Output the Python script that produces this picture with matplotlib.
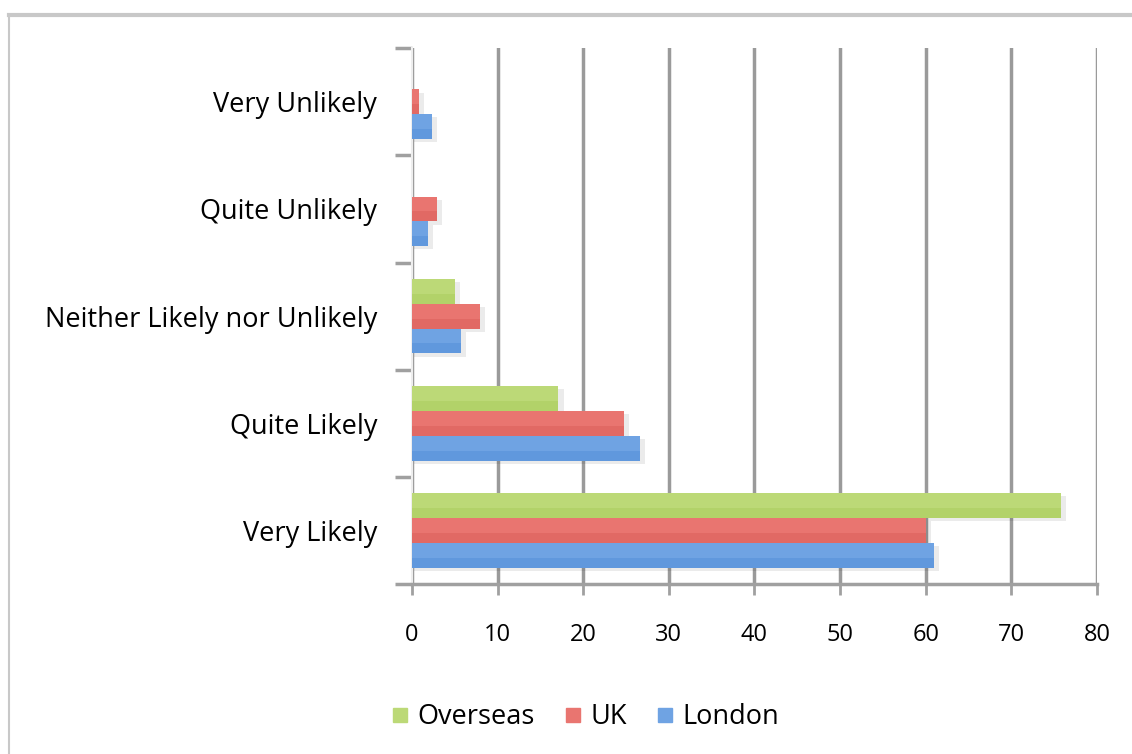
import matplotlib.pyplot as plt
from matplotlib.lines import Line2D
import numpy as np

# data
categories = ['Very Likely', 'Quite Likely', 'Neither Likely nor Unlikely',
              'Quite Unlikely', 'Very Unlikely']
london = [61, 26.6, 5.7, 1.9, 2.3]
uk = [60, 24.8, 7.9, 2.9, 0.8]
overseas = [75.8, 17.1, 5.0, 0, 0]
series_names = ['London', 'UK', 'Overseas']
x_ticks = [0, 10, 20, 30, 40, 50, 60, 70, 80]

colors = {'London': '#6fa3e3', 'UK': '#e97570', 'Overseas': '#bcd977'}
edge_dark = {'London': '#4f8bd6', 'UK': '#d95c57', 'Overseas': '#a6cb5a'}

plt.rcParams['font.family'] = ['Open Sans', 'DejaVu Sans']

fig = plt.figure(figsize=(11.32, 7.54), dpi=100)
ax = fig.add_axes([0.364, 0.2255, 0.605, 0.7105])

y = np.arange(len(categories))
h = 0.232
offsets = {'London': -h, 'UK': 0, 'Overseas': h}
values = {'London': london, 'UK': uk, 'Overseas': overseas}

for name in series_names:
    vals = np.array(values[name])
    pos = y + offsets[name]
    keep = vals > 0
    # soft drop shadow
    ax.barh(pos[keep] - 0.03, vals[keep] + 0.4, height=h, color='#000000',
            alpha=0.08, left=0.2, zorder=2, linewidth=0)
    ax.barh(pos, vals, height=h, color=colors[name], zorder=3, linewidth=0)
    # darker lower strip to hint at the gradient
    ax.barh(pos - h * 0.3, vals, height=h * 0.4, color=edge_dark[name],
            alpha=0.45, zorder=3, linewidth=0)

ax.set_xlim(0, 80)
ax.set_ylim(-0.5, len(categories) - 0.5)
ax.set_xticks(x_ticks)
ax.set_xticklabels([str(t) for t in x_ticks], fontsize=17)
ax.set_yticks(np.arange(-0.5, len(categories), 1.0))
ax.set_yticklabels([])
ax.set_yticks(y, minor=True)
ax.set_yticklabels(categories, minor=True, fontsize=19.5)
ax.tick_params(axis='y', which='minor', length=0, pad=25)
ax.tick_params(axis='y', which='major', length=12, width=2.5, color='#a0a0a0')
ax.tick_params(axis='x', length=8, width=2, color='#a0a0a0', pad=20)

ax.grid(axis='x', color='#9a9a9a', linewidth=2.5, zorder=0)
ax.set_axisbelow(True)
for s in ['top', 'right']:
    ax.spines[s].set_visible(False)
ax.spines['bottom'].set_color('#a0a0a0')
ax.spines['bottom'].set_linewidth(2.5)
ax.spines['left'].set_color('#eeeeee')
ax.spines['left'].set_linewidth(1.5)

handles = [Line2D([], [], marker='s', linestyle='', markersize=10,
                  markerfacecolor=colors[n], markeredgecolor=colors[n])
           for n in ['Overseas', 'UK', 'London']]
fig.legend(handles, ['Overseas', 'UK', 'London'], loc='center',
           bbox_to_anchor=(0.517, 0.049), ncol=3, frameon=False, fontsize=19.5,
           handlelength=0.6, handletextpad=0.35, columnspacing=1.1)

# outer chart frame (top and left edges visible)
fig.add_artist(Line2D([0.008, 1.0], [0.98, 0.98], color='#c8c8c8', linewidth=3,
                      transform=fig.transFigure))
fig.add_artist(Line2D([0.008, 0.008], [0.0, 0.98], color='#c8c8c8', linewidth=1.5,
                      transform=fig.transFigure))

fig.savefig('out.png', dpi=100)
